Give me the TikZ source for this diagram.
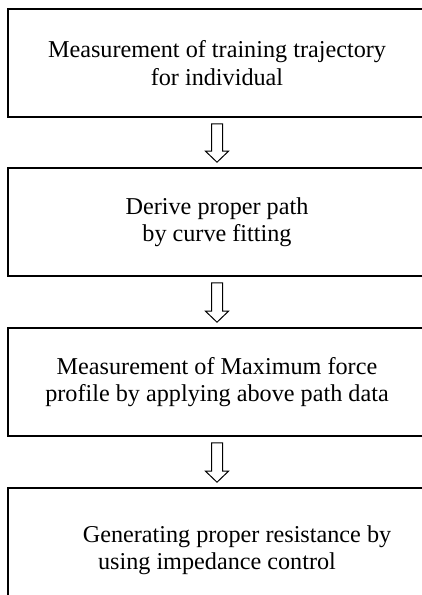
\documentclass[tikz,border=0pt]{standalone}
\usepackage{fontspec}
\setmainfont{Liberation Serif}
\usetikzlibrary{%
  calc,%
  positioning%
}
\tikzset{>=latex,
  stage/.style={draw,line width=1.6pt,minimum width=418pt,minimum height=108pt,
    align=center,inner sep=0pt,font=\fontsize{24.2}{27.5}\selectfont},
  hollow/.style={draw,line width=1pt,fill=white,line join=miter}}
\newcommand{\flowarrow}[2]{%
  \draw[hollow] ($(#1.south)+(-5.5,-6)$) -- ($(#2.north)+(-5.5,16)$) -- ++(-6,0)
  -- ($(#2.north)+(0,5)$) -- ($(#2.north)+(11.5,16)$) -- ++(-6,0)
  -- ($(#1.south)+(5.5,-6)$) -- cycle;}

\begin{document}
\begin{tikzpicture}[x=1pt,y=1pt]
        \clip (0,0) rectangle (422,595);
        \node[stage] (meas) at (217,532) {Measurement of training trajectory\\for individual};
        \node[stage] (fit) at (217,373) {Derive proper path\\by curve fitting};
        \node[stage] (force) at (217,213) {Measurement of Maximum force\\profile by applying above path data};
        \node[stage,minimum height=124pt] (imped) at (217,45)
        {\hspace*{40pt}Generating proper resistance by\\using impedance control};
        \flowarrow{meas}{fit}
        \flowarrow{fit}{force}
        \flowarrow{force}{imped}
      \end{tikzpicture}
\end{document}
